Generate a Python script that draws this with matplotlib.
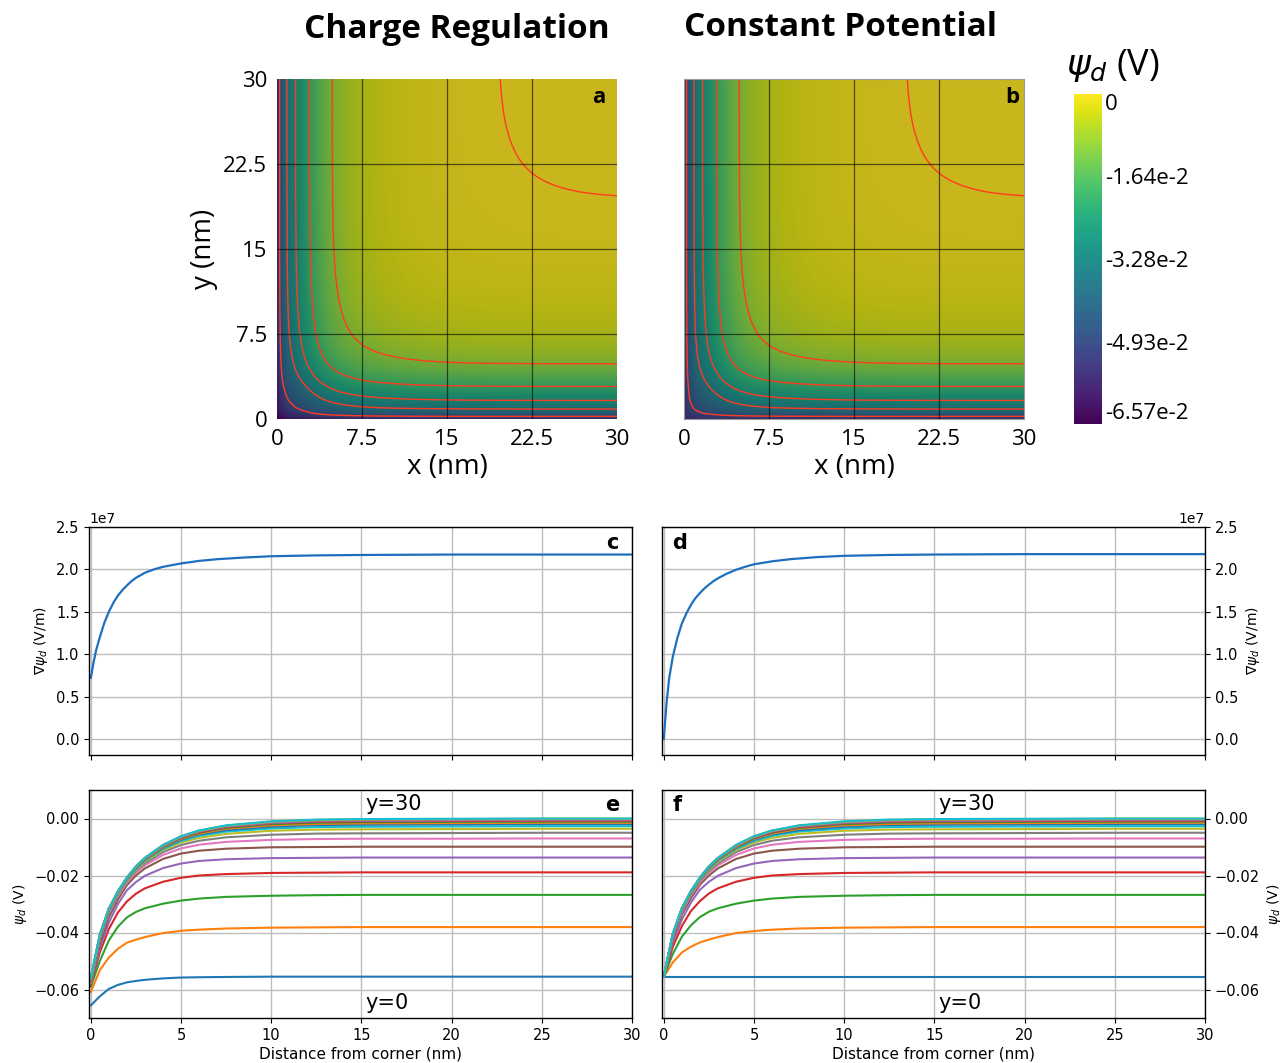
import numpy as np
import matplotlib
matplotlib.use("Agg")
import matplotlib.pyplot as plt
from matplotlib.colors import ListedColormap, Normalize
from matplotlib.cm import ScalarMappable

# ---------------- data ----------------
x_nm = [0, 0.5, 1, 1.5, 2, 2.5, 3, 4, 5, 6, 7.5, 10, 12.5, 15, 20, 25, 30]

# panel e : charge regulation, psi_d along x for 20 y-positions (y=0 ... y=30)
psi_cr = [
    [-0.0656, -0.0624, -0.0598, -0.0584, -0.0575, -0.0570, -0.0566, -0.0561, -0.0558, -0.0557, -0.0556, -0.0555, -0.0555, -0.0555, -0.0555, -0.0555, -0.0555],
    [-0.0609, -0.0532, -0.0488, -0.0457, -0.0436, -0.0425, -0.0416, -0.0402, -0.0394, -0.0390, -0.0386, -0.0383, -0.0382, -0.0381, -0.0381, -0.0381, -0.0381],
    [-0.0590, -0.0500, -0.0428, -0.0380, -0.0347, -0.0328, -0.0315, -0.0299, -0.0288, -0.0281, -0.0275, -0.0271, -0.0269, -0.0268, -0.0268, -0.0268, -0.0268],
    [-0.0582, -0.0470, -0.0388, -0.0330, -0.0291, -0.0264, -0.0245, -0.0222, -0.0208, -0.0200, -0.0195, -0.0191, -0.0190, -0.0189, -0.0189, -0.0189, -0.0189],
    [-0.0580, -0.0455, -0.0365, -0.0300, -0.0252, -0.0223, -0.0201, -0.0174, -0.0158, -0.0149, -0.0143, -0.0139, -0.0138, -0.0137, -0.0137, -0.0137, -0.0137],
    [-0.0578, -0.0440, -0.0346, -0.0284, -0.0234, -0.0200, -0.0175, -0.0142, -0.0123, -0.0113, -0.0106, -0.0101, -0.0100, -0.0099, -0.0099, -0.0099, -0.0099],
    [-0.0576, -0.0422, -0.0332, -0.0271, -0.0225, -0.0190, -0.0164, -0.0128, -0.0105, -0.0092, -0.0082, -0.0075, -0.0072, -0.0071, -0.0071, -0.0070, -0.0070],
    [-0.0574, -0.0419, -0.0328, -0.0267, -0.0220, -0.0184, -0.0157, -0.0118, -0.0093, -0.0078, -0.0066, -0.0057, -0.0053, -0.0052, -0.0051, -0.0050, -0.0050],
    [-0.0572, -0.0417, -0.0325, -0.0264, -0.0216, -0.0180, -0.0151, -0.0111, -0.0084, -0.0068, -0.0054, -0.0043, -0.0039, -0.0038, -0.0037, -0.0036, -0.0036],
    [-0.0570, -0.0415, -0.0323, -0.0262, -0.0214, -0.0177, -0.0148, -0.0107, -0.0079, -0.0061, -0.0046, -0.0035, -0.0030, -0.0029, -0.0028, -0.0027, -0.0027],
    [-0.0569, -0.0413, -0.0322, -0.0260, -0.0212, -0.0174, -0.0145, -0.0103, -0.0074, -0.0056, -0.0041, -0.0029, -0.0023, -0.0022, -0.0021, -0.0020, -0.0020],
    [-0.0567, -0.0412, -0.0320, -0.0259, -0.0211, -0.0173, -0.0144, -0.0101, -0.0071, -0.0053, -0.0036, -0.0024, -0.0019, -0.0017, -0.0016, -0.0015, -0.0015],
    [-0.0566, -0.0411, -0.0319, -0.0258, -0.0210, -0.0172, -0.0142, -0.0099, -0.0069, -0.0050, -0.0033, -0.0020, -0.0015, -0.0013, -0.0012, -0.0011, -0.0011],
    [-0.0565, -0.0410, -0.0318, -0.0258, -0.0209, -0.0171, -0.0141, -0.0097, -0.0067, -0.0048, -0.0031, -0.0017, -0.0012, -0.0010, -0.0009, -0.0008, -0.0008],
    [-0.0564, -0.0410, -0.0318, -0.0257, -0.0209, -0.0170, -0.0140, -0.0096, -0.0066, -0.0046, -0.0029, -0.0016, -0.0010, -0.0008, -0.0007, -0.0006, -0.0006],
    [-0.0563, -0.0409, -0.0317, -0.0257, -0.0208, -0.0169, -0.0139, -0.0095, -0.0064, -0.0045, -0.0027, -0.0014, -0.0008, -0.0006, -0.0005, -0.0004, -0.0004],
    [-0.0562, -0.0408, -0.0316, -0.0257, -0.0208, -0.0169, -0.0139, -0.0095, -0.0064, -0.0044, -0.0026, -0.0013, -0.0007, -0.0005, -0.0004, -0.0003, -0.0003],
    [-0.0561, -0.0408, -0.0316, -0.0256, -0.0208, -0.0169, -0.0139, -0.0094, -0.0063, -0.0043, -0.0026, -0.0012, -0.0006, -0.0004, -0.0003, -0.0002, -0.0002],
    [-0.0560, -0.0408, -0.0316, -0.0256, -0.0207, -0.0168, -0.0138, -0.0094, -0.0063, -0.0043, -0.0025, -0.0011, -0.0005, -0.0003, -0.0002, -0.0001, -0.0001],
    [-0.0560, -0.0407, -0.0316, -0.0256, -0.0207, -0.0168, -0.0138, -0.0093, -0.0062, -0.0042, -0.0024, -0.0010, -0.0004, -0.0002, -0.0001, 0.0000, 0.0000],
]

# panel f : constant potential
psi_cp = [
    [-0.0555, -0.0555, -0.0555, -0.0555, -0.0555, -0.0555, -0.0555, -0.0555, -0.0555, -0.0555, -0.0555, -0.0555, -0.0555, -0.0555, -0.0555, -0.0555, -0.0555],
    [-0.0555, -0.0505, -0.0470, -0.0450, -0.0435, -0.0425, -0.0416, -0.0402, -0.0395, -0.0390, -0.0386, -0.0383, -0.0382, -0.0381, -0.0381, -0.0381, -0.0381],
    [-0.0555, -0.0475, -0.0415, -0.0375, -0.0346, -0.0327, -0.0315, -0.0299, -0.0288, -0.0281, -0.0275, -0.0271, -0.0269, -0.0268, -0.0268, -0.0268, -0.0268],
    [-0.0555, -0.0450, -0.0378, -0.0325, -0.0290, -0.0263, -0.0245, -0.0222, -0.0208, -0.0200, -0.0195, -0.0191, -0.0190, -0.0189, -0.0189, -0.0189, -0.0189],
    [-0.0555, -0.0435, -0.0355, -0.0295, -0.0250, -0.0222, -0.0201, -0.0174, -0.0158, -0.0149, -0.0143, -0.0139, -0.0138, -0.0137, -0.0137, -0.0137, -0.0137],
    [-0.0555, -0.0420, -0.0337, -0.0280, -0.0233, -0.0200, -0.0175, -0.0142, -0.0123, -0.0113, -0.0106, -0.0101, -0.0100, -0.0099, -0.0099, -0.0099, -0.0099],
    [-0.0555, -0.0412, -0.0328, -0.0270, -0.0225, -0.0190, -0.0164, -0.0128, -0.0105, -0.0092, -0.0082, -0.0075, -0.0072, -0.0071, -0.0071, -0.0070, -0.0070],
    [-0.0555, -0.0410, -0.0324, -0.0266, -0.0220, -0.0184, -0.0157, -0.0118, -0.0093, -0.0078, -0.0066, -0.0057, -0.0053, -0.0052, -0.0051, -0.0050, -0.0050],
    [-0.0555, -0.0409, -0.0321, -0.0263, -0.0216, -0.0180, -0.0151, -0.0111, -0.0084, -0.0068, -0.0054, -0.0043, -0.0039, -0.0038, -0.0037, -0.0036, -0.0036],
    [-0.0555, -0.0408, -0.0320, -0.0261, -0.0214, -0.0177, -0.0148, -0.0107, -0.0079, -0.0061, -0.0046, -0.0035, -0.0030, -0.0029, -0.0028, -0.0027, -0.0027],
    [-0.0555, -0.0407, -0.0319, -0.0259, -0.0212, -0.0174, -0.0145, -0.0103, -0.0074, -0.0056, -0.0041, -0.0029, -0.0023, -0.0022, -0.0021, -0.0020, -0.0020],
    [-0.0555, -0.0407, -0.0318, -0.0258, -0.0211, -0.0173, -0.0144, -0.0101, -0.0071, -0.0053, -0.0036, -0.0024, -0.0019, -0.0017, -0.0016, -0.0015, -0.0015],
    [-0.0555, -0.0406, -0.0317, -0.0257, -0.0210, -0.0172, -0.0142, -0.0099, -0.0069, -0.0050, -0.0033, -0.0020, -0.0015, -0.0013, -0.0012, -0.0011, -0.0011],
    [-0.0555, -0.0406, -0.0316, -0.0257, -0.0209, -0.0171, -0.0141, -0.0097, -0.0067, -0.0048, -0.0031, -0.0017, -0.0012, -0.0010, -0.0009, -0.0008, -0.0008],
    [-0.0555, -0.0406, -0.0316, -0.0256, -0.0209, -0.0170, -0.0140, -0.0096, -0.0066, -0.0046, -0.0029, -0.0016, -0.0010, -0.0008, -0.0007, -0.0006, -0.0006],
    [-0.0555, -0.0405, -0.0316, -0.0256, -0.0208, -0.0169, -0.0139, -0.0095, -0.0064, -0.0045, -0.0027, -0.0014, -0.0008, -0.0006, -0.0005, -0.0004, -0.0004],
    [-0.0555, -0.0405, -0.0315, -0.0256, -0.0208, -0.0169, -0.0139, -0.0095, -0.0064, -0.0044, -0.0026, -0.0013, -0.0007, -0.0005, -0.0004, -0.0003, -0.0003],
    [-0.0555, -0.0405, -0.0315, -0.0255, -0.0208, -0.0169, -0.0139, -0.0094, -0.0063, -0.0043, -0.0026, -0.0012, -0.0006, -0.0004, -0.0003, -0.0002, -0.0002],
    [-0.0555, -0.0405, -0.0315, -0.0255, -0.0207, -0.0168, -0.0138, -0.0094, -0.0063, -0.0043, -0.0025, -0.0011, -0.0005, -0.0003, -0.0002, -0.0001, -0.0001],
    [-0.0555, -0.0405, -0.0315, -0.0255, -0.0207, -0.0168, -0.0138, -0.0093, -0.0062, -0.0042, -0.0024, -0.0010, -0.0004, -0.0002, -0.0001, 0.0000, 0.0000],
]

# panels c / d : field strength along the wall (V/m)
grad_x_nm = [0, 0.15, 0.3, 0.5, 0.75, 1, 1.25, 1.5, 1.75, 2, 2.25, 2.5, 2.75, 3, 3.5, 4, 4.5, 5,
             6, 7, 8.5, 10, 12.5, 15, 20, 30]
grad_cr = [0.72e7, 0.90e7, 1.05e7, 1.20e7, 1.37e7, 1.50e7, 1.605e7, 1.69e7, 1.755e7, 1.81e7, 1.86e7,
           1.90e7, 1.93e7, 1.96e7, 2.00e7, 2.03e7, 2.05e7, 2.07e7, 2.10e7, 2.12e7, 2.14e7, 2.155e7,
           2.165e7, 2.17e7, 2.175e7, 2.175e7]
grad_cp = [0.0, 0.42e7, 0.72e7, 0.97e7, 1.19e7, 1.36e7, 1.48e7, 1.58e7, 1.66e7, 1.72e7, 1.775e7,
           1.82e7, 1.86e7, 1.895e7, 1.95e7, 1.995e7, 2.03e7, 2.06e7, 2.095e7, 2.12e7, 2.145e7, 2.16e7,
           2.17e7, 2.175e7, 2.18e7, 2.18e7]

heat_profile_psi = [-0.0555, -0.0415, -0.0345, -0.0300, -0.0262, -0.0228, -0.0197, -0.0140, -0.0100,
                    -0.0073, -0.0047, -0.0024, -0.0012, -0.0006, -0.00015, -0.00004, -0.00001]
psi_wall = -0.0555
psi_corner_cr = -0.0657
contour_y_nm = [0.23, 0.88, 1.64, 2.87, 4.87, 19.7]

cbar_ticks = [-6.57e-2, -4.93e-2, -3.28e-2, -1.64e-2, 0.0]
cbar_ticklabels = ['-6.57e-2', '-4.93e-2', '-3.28e-2', '-1.64e-2', '0']
heat_ticks = [0, 7.5, 15, 22.5, 30]
heat_ticklabels = ['0', '7.5', '15', '22.5', '30']
line_ticks = [0, 5, 10, 15, 20, 25, 30]
psi_ticks = [-0.06, -0.04, -0.02, 0.0]
grad_ticks = [0, 0.5e7, 1.0e7, 1.5e7, 2.0e7, 2.5e7]

# ---------------- figure ----------------
W, H = 1282, 1063
fig = plt.figure(figsize=(W / 100, H / 100), dpi=100)


def box(l, t, r, b):
    return [l / W, 1 - b / H, (r - l) / W, (b - t) / H]


HF = 'Open Sans'

# heat-map field built from the wall profile
g = np.linspace(0, 30, 601)
p = np.exp(np.interp(g, x_nm, np.log(np.array(heat_profile_psi) / psi_wall)))
PX, PY = np.meshgrid(p, p)
field_cp = psi_wall * (1 - (1 - PX) * (1 - PY))
field_cr = field_cp + (psi_corner_cr - psi_wall) * PX * PY

norm = Normalize(vmin=-6.57e-2, vmax=0.0)
base = plt.get_cmap('viridis')(np.linspace(0, 1, 256))
base[:, :3] *= 0.79
shaded = ListedColormap(base)

ax_a = fig.add_axes(box(277, 79, 617, 419))
ax_b = fig.add_axes(box(684, 79, 1024, 419))
for ax, fld, lab, lx in [(ax_a, field_cr, 'a', 0.945), (ax_b, field_cp, 'b', 0.965)]:
    ax.imshow(fld, origin='lower', extent=[0, 30, 0, 30], cmap=shaded, norm=norm,
              interpolation='bilinear', aspect='auto')
    levels = np.interp(contour_y_nm, g, fld[:, -1])
    ax.contour(g, g, fld, levels=levels, colors='#ff3b22', linewidths=1.0,
               linestyles='solid')
    for v in [7.5, 15, 22.5]:
        ax.axvline(v, color='black', lw=0.9, alpha=0.6)
        ax.axhline(v, color='black', lw=0.9, alpha=0.6)
    ax.set_xlim(0, 30)
    ax.set_ylim(0, 30)
    ax.set_xticks(heat_ticks, heat_ticklabels, fontfamily=HF, fontsize=16)
    ax.tick_params(length=0, pad=7)
    ax.set_xlabel('x (nm)', fontfamily=HF, fontsize=20, labelpad=2)
    ax.text(lx, 0.947, lab, transform=ax.transAxes, ha='center', va='center',
            fontsize=16, fontweight='bold', fontfamily=HF)
    for s in ax.spines.values():
        s.set_visible(False)

ax_a.set_yticks(heat_ticks, heat_ticklabels, fontfamily=HF, fontsize=16)
ax_a.set_ylabel('y (nm)', fontfamily=HF, fontsize=20, labelpad=4)
ax_b.set_yticks([])
for s in ax_b.spines.values():
    s.set_visible(True)
    s.set_color('#999999')
    s.set_linewidth(0.8)

fig.text(457 / W, 1 - 30 / H, 'Charge Regulation', ha='center', va='center',
         fontsize=24, fontweight='bold', fontfamily=HF)
fig.text(841 / W, 1 - 27 / H, 'Constant Potential', ha='center', va='center',
         fontsize=24, fontweight='bold', fontfamily=HF)

# colour bar
cax = fig.add_axes(box(1074, 94, 1102, 424))
cb = fig.colorbar(ScalarMappable(norm=norm, cmap='viridis'), cax=cax)
cb.outline.set_visible(False)
cb.set_ticks(cbar_ticks)
cb.set_ticklabels(cbar_ticklabels)
cax.tick_params(length=0, pad=2, labelsize=16)
labs = cax.get_yticklabels()
for lb in labs:
    lb.set_fontfamily(HF)
labs[0].set_va('bottom')
labs[-1].set_va('top')
fig.text(1113 / W, 1 - 66 / H, r'$\psi_d$ (V)', ha='center', va='center',
         fontsize=26, fontfamily=HF)

# line panels
ax_c = fig.add_axes(box(89, 527, 632, 755))
ax_d = fig.add_axes(box(662, 527, 1205, 755))
ax_e = fig.add_axes(box(89, 790, 632, 1018))
ax_f = fig.add_axes(box(662, 790, 1205, 1018))

ax_c.plot(grad_x_nm, grad_cr, color='#1f6fbf', lw=1.6)
ax_d.plot(grad_x_nm, grad_cp, color='#1f6fbf', lw=1.6)
for ax in (ax_c, ax_d):
    ax.set_ylim(-0.19e7, 2.5e7)
    ax.set_yticks(grad_ticks)
    ax.set_ylabel(r'$\nabla\psi_d$ (V/m)', fontsize=10)
    ax.tick_params(labelbottom=False)

for ax, data in ((ax_e, psi_cr), (ax_f, psi_cp)):
    for row in data:
        ax.plot(x_nm, row, lw=1.5)
    ax.set_ylim(-0.07, 0.01)
    ax.set_yticks(psi_ticks)
    ax.set_ylabel(r'$\psi_d$ (V)', fontsize=10)
    ax.set_xlabel('Distance from corner (nm)', fontsize=11, labelpad=3)
    ax.text(15.2, 0.0052, 'y=30', fontsize=15, va='center', ha='left')
    ax.text(15.2, -0.0648, 'y=0', fontsize=15, va='center', ha='left')

for ax in (ax_c, ax_d, ax_e, ax_f):
    ax.set_xlim(-0.1, 30)
    ax.set_xticks(line_ticks)
    ax.grid(True, color='#bdbdbd', lw=1.0)
    ax.tick_params(labelsize=10.5)
    for s in ax.spines.values():
        s.set_linewidth(1.0)

for ax in (ax_d, ax_f):
    ax.yaxis.tick_right()
    ax.yaxis.set_label_position('right')

for ax, lab, lx in ((ax_c, 'c', 0.963), (ax_d, 'd', 0.033), (ax_e, 'e', 0.963), (ax_f, 'f', 0.028)):
    ax.text(lx, 0.93 if ax in (ax_c, ax_d) else 0.935, lab, transform=ax.transAxes,
            ha='center', va='center', fontsize=15, fontweight='bold')

fig.savefig('out.png', dpi=100)
